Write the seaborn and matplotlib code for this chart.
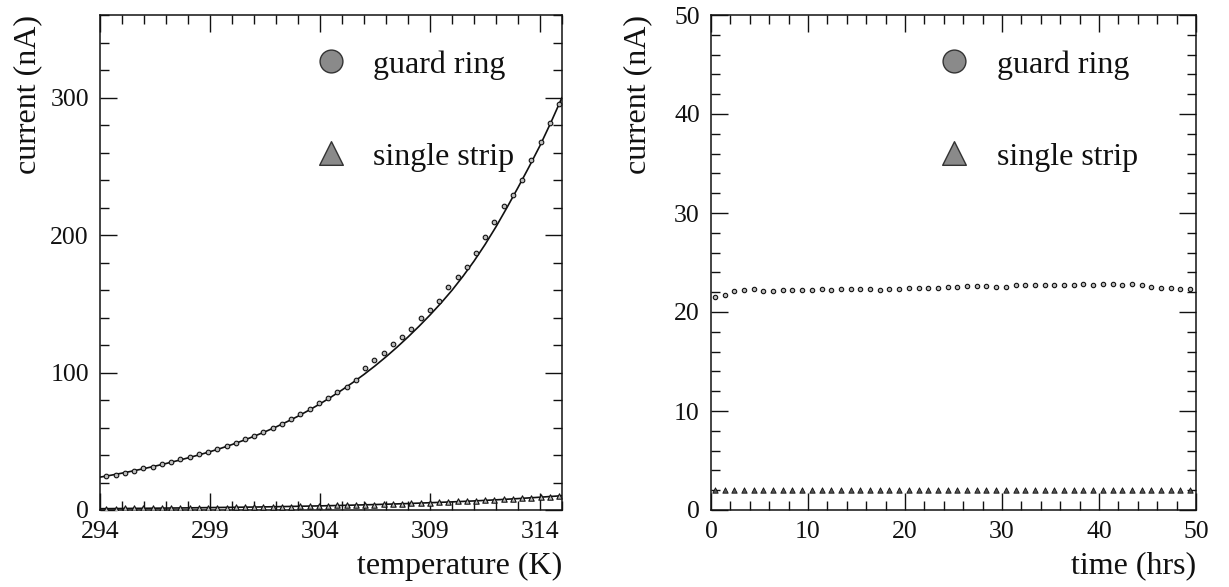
import matplotlib
matplotlib.use("Agg")
import matplotlib.pyplot as plt
from matplotlib.ticker import FixedLocator, MultipleLocator
import seaborn as sns
import pandas as pd

# ---- leakage current vs temperature ----
temperature_K = [
    294.29, 294.71, 295.13, 295.55, 295.97, 296.39, 296.81, 297.23, 297.65, 298.07,
    298.49, 298.91, 299.33, 299.75, 300.17, 300.59, 301.01, 301.43, 301.85, 302.27,
    302.69, 303.11, 303.53, 303.95, 304.37, 304.79, 305.21, 305.63, 306.05, 306.47,
    306.89, 307.31, 307.73, 308.15, 308.57, 308.99, 309.41, 309.83, 310.25, 310.67,
    311.09, 311.51, 311.93, 312.35, 312.77, 313.19, 313.61, 314.03, 314.45, 314.87,
]
guard_vs_T = [
    24.8, 25.5, 27.2, 28.6, 30.3, 31.6, 33.3, 35.2, 36.9, 38.8,
    40.8, 42.5, 44.2, 46.6, 49.0, 51.5, 54.1, 57.0, 60.0, 62.6,
    66.0, 69.7, 73.6, 77.7, 81.8, 85.7, 89.8, 94.7, 103.0, 109.0,
    114.0, 120.6, 126.0, 131.6, 139.6, 145.7, 151.7, 161.9, 169.5, 176.8,
    187.0, 198.6, 209.3, 221.4, 229.4, 240.3, 254.2, 267.5, 281.6, 295.5,
]
strip_vs_T = [
    1.0, 1.0, 1.1, 1.1, 1.2, 1.2, 1.3, 1.4, 1.4, 1.5,
    1.6, 1.6, 1.7, 1.8, 1.9, 2.0, 2.1, 2.2, 2.3, 2.4,
    2.5, 2.7, 2.8, 3.0, 3.1, 3.3, 3.4, 3.6, 3.8, 4.0,
    4.2, 4.4, 4.6, 4.8, 5.1, 5.3, 5.6, 5.9, 6.2, 6.5,
    6.8, 7.1, 7.5, 7.8, 8.2, 8.6, 9.0, 9.4, 9.8, 10.2,
]

# fitted curves
fit_T = [
    294.0, 294.5, 295.0, 295.5, 296.0, 296.5, 297.0, 297.5, 298.0, 298.5,
    299.0, 299.5, 300.0, 300.5, 301.0, 301.5, 302.0, 302.5, 303.0, 303.5,
    304.0, 304.5, 305.0, 305.5, 306.0, 306.5, 307.0, 307.5, 308.0, 308.5,
    309.0, 309.5, 310.0, 310.5, 311.0, 311.5, 312.0, 312.5, 313.0, 313.5,
    314.0, 314.5, 315.0,
]
guard_fit = [
    23.9, 25.3, 26.8, 28.4, 30.1, 31.9, 33.8, 35.8, 37.9, 40.1,
    42.4, 44.9, 47.6, 50.5, 53.6, 56.9, 60.4, 64.2, 68.2, 72.6,
    77.2, 82.1, 87.3, 92.8, 98.6, 104.8, 111.4, 118.4, 125.8, 133.6,
    141.8, 150.5, 159.8, 170.0, 181.0, 193.0, 206.0, 220.0, 234.5, 249.5,
    265.0, 282.0, 300.0,
]
strip_fit = [
    0.95, 1.02, 1.1, 1.18, 1.25, 1.32, 1.4, 1.47, 1.55, 1.65,
    1.75, 1.85, 1.95, 2.05, 2.15, 2.28, 2.4, 2.55, 2.7, 2.85,
    3.0, 3.17, 3.35, 3.55, 3.75, 3.97, 4.2, 4.45, 4.7, 5.0,
    5.3, 5.6, 5.9, 6.25, 6.6, 7.0, 7.4, 7.85, 8.3, 8.8,
    9.3, 9.85, 10.4,
]

# ---- leakage current vs time ----
time_hrs = [
    0.4, 1.4, 2.4, 3.4, 4.4, 5.4, 6.4, 7.4, 8.4, 9.4,
    10.4, 11.4, 12.4, 13.4, 14.4, 15.4, 16.4, 17.4, 18.4, 19.4,
    20.4, 21.4, 22.4, 23.4, 24.4, 25.4, 26.4, 27.4, 28.4, 29.4,
    30.4, 31.4, 32.4, 33.4, 34.4, 35.4, 36.4, 37.4, 38.4, 39.4,
    40.4, 41.4, 42.4, 43.4, 44.4, 45.4, 46.4, 47.4, 48.4, 49.4,
]
guard_vs_t = [
    21.55, 21.72, 22.12, 22.22, 22.29, 22.15, 22.15, 22.19, 22.22, 22.22,
    22.22, 22.29, 22.25, 22.29, 22.29, 22.36, 22.36, 22.25, 22.29, 22.36,
    22.39, 22.46, 22.46, 22.46, 22.49, 22.56, 22.63, 22.63, 22.63, 22.56,
    22.56, 22.69, 22.69, 22.69, 22.73, 22.73, 22.73, 22.76, 22.79, 22.73,
    22.83, 22.79, 22.76, 22.86, 22.76, 22.49, 22.39, 22.39, 22.29, 22.29,
]
strip_vs_t = [
    2.0, 2.0, 2.0, 2.0, 2.0, 2.0, 2.0, 2.0, 2.0, 2.0,
    2.0, 2.0, 2.0, 2.0, 2.0, 2.0, 2.0, 2.0, 2.0, 2.0,
    2.0, 2.0, 2.0, 2.0, 2.0, 2.0, 2.0, 2.0, 2.0, 2.0,
    2.0, 2.0, 2.0, 2.0, 2.0, 2.0, 2.0, 2.0, 2.0, 2.0,
    2.0, 2.0, 2.0, 2.0, 2.0, 2.0, 2.0, 2.0, 2.0, 2.0,
]

legend_labels = ["guard ring", "single strip"]

sns.set_theme(style="ticks")
plt.rcParams["font.family"] = ["Liberation Serif", "DejaVu Serif"]
plt.rcParams["mathtext.fontset"] = "stix"

W, H = 1229, 587
fig = plt.figure(figsize=(W / 100, H / 100), dpi=100)
ax1 = fig.add_axes([100 / W, 1 - 510 / H, 462 / W, 495 / H])
ax2 = fig.add_axes([711 / W, 1 - 510 / H, 485 / W, 495 / H])

INK = "#111111"
FILL = "#8a8a8a"

df_T = pd.DataFrame({"T": temperature_K, "guard": guard_vs_T, "strip": strip_vs_T})
df_fit = pd.DataFrame({"T": fit_T, "guard": guard_fit, "strip": strip_fit})
df_t = pd.DataFrame({"t": time_hrs, "guard": guard_vs_t, "strip": strip_vs_t})

# left panel: fits + measurements
sns.lineplot(data=df_fit, x="T", y="guard", ax=ax1, color=INK, lw=1.2,
             estimator=None, sort=False)
sns.lineplot(data=df_fit, x="T", y="strip", ax=ax1, color=INK, lw=1.2,
             estimator=None, sort=False)
sns.scatterplot(data=df_T, x="T", y="guard", ax=ax1, marker="o", s=11,
                facecolor="#bdbdbd", edgecolor=INK, linewidth=0.8, zorder=3)
sns.scatterplot(data=df_T, x="T", y="strip", ax=ax1, marker="^", s=15,
                facecolor="#bdbdbd", edgecolor=INK, linewidth=0.8, zorder=3)

# right panel: measurements over time
sns.scatterplot(data=df_t, x="t", y="guard", ax=ax2, marker="o", s=10,
                facecolor="#bdbdbd", edgecolor=INK, linewidth=0.8, zorder=3)
sns.scatterplot(data=df_t, x="t", y="strip", ax=ax2, marker="^", s=15,
                facecolor="#555555", edgecolor=INK, linewidth=0.6, zorder=3)

ax1.set_xlim(294, 315)
ax1.set_ylim(0, 360)
ax1.xaxis.set_major_locator(FixedLocator([294, 299, 304, 309, 314]))
ax1.xaxis.set_minor_locator(MultipleLocator(1))
ax1.yaxis.set_major_locator(MultipleLocator(100))
ax1.yaxis.set_minor_locator(MultipleLocator(20))

ax2.set_xlim(0, 50)
ax2.set_ylim(0, 50)
ax2.xaxis.set_major_locator(MultipleLocator(10))
ax2.xaxis.set_minor_locator(MultipleLocator(2))
ax2.yaxis.set_major_locator(MultipleLocator(10))
ax2.yaxis.set_minor_locator(MultipleLocator(2))

for ax, xlab, ypad in ((ax1, "temperature (K)", 6), (ax2, "time (hrs)", 16)):
    for sp in ax.spines.values():
        sp.set_visible(True)
        sp.set_color(INK)
        sp.set_linewidth(1.1)
    ax.tick_params(which="both", direction="in", top=True, right=True,
                   color=INK, width=1.0, labelsize=18.5, labelcolor=INK)
    ax.tick_params(which="major", length=12)
    ax.tick_params(which="minor", length=6.5)
    ax.tick_params(axis="x", which="major", pad=8)
    ax.tick_params(axis="y", which="major", pad=8)
    ax.set_xlabel(xlab, fontsize=23, loc="right", labelpad=6, color=INK)
    ax.set_ylabel("current (nA)", fontsize=23, loc="top", labelpad=ypad, color=INK)
    ax.set_facecolor("white")
    ax.grid(False)

    # legend
    ax.scatter([0.5], [0.908], transform=ax.transAxes, marker="o", s=270,
               facecolor=FILL, edgecolor="#333333", linewidth=1.0, clip_on=False, zorder=4)
    ax.scatter([0.5], [0.722], transform=ax.transAxes, marker="^", s=290,
               facecolor=FILL, edgecolor="#333333", linewidth=1.0, clip_on=False, zorder=4)
    ax.text(0.59, 0.898, legend_labels[0], transform=ax.transAxes, ha="left",
            va="center", fontsize=23, color=INK)
    ax.text(0.59, 0.712, legend_labels[1], transform=ax.transAxes, ha="left",
            va="center", fontsize=23, color=INK)

fig.savefig("out.png", dpi=100, facecolor="white")
